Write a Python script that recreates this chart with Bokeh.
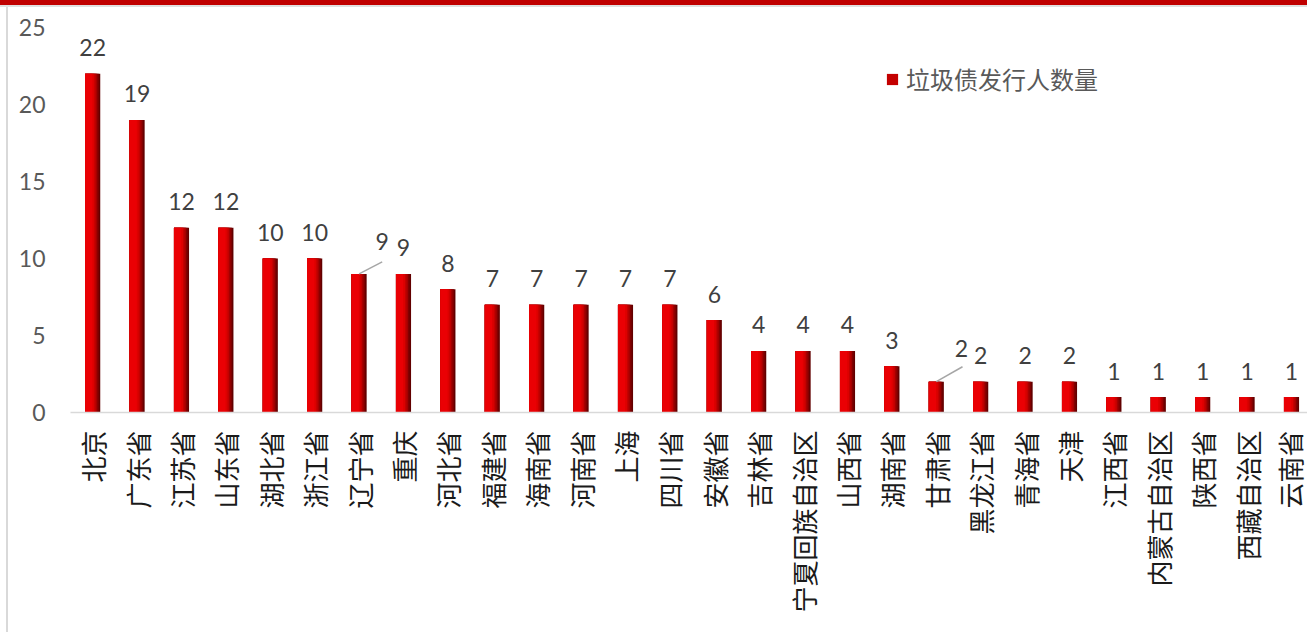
import math
from bokeh.plotting import figure
from bokeh.models import ColumnDataSource, FixedTicker, Range1d, Legend, LegendItem, Spacer
from bokeh.layouts import row, column
from bokeh.core.properties import value
from bokeh.embed import file_html
from bokeh.resources import INLINE

categories = ["北京", "广东省", "江苏省", "山东省", "湖北省", "浙江省", "辽宁省", "重庆",
              "河北省", "福建省", "海南省", "河南省", "上海", "四川省", "安徽省", "吉林省",
              "宁夏回族自治区", "山西省", "湖南省", "甘肃省", "黑龙江省", "青海省", "天津",
              "江西省", "内蒙古自治区", "陕西省", "西藏自治区", "云南省"]
issuers = [22, 19, 12, 12, 10, 10, 9, 9, 8, 7, 7, 7, 7, 7, 6, 4, 4, 4, 3, 2, 2, 2, 2,
           1, 1, 1, 1, 1]
y_ticks = [0, 5, 10, 15, 20, 25]
series_name = "垃圾债发行人数量"

n = len(categories)
xs = list(range(n))


def strip(w, h, color):
    f = figure(width=w, height=h, output_backend="svg", toolbar_location=None,
               title=None, x_axis_type=None, y_axis_type=None,
               x_range=Range1d(0, 1), y_range=Range1d(0, 1),
               min_border=0, min_border_left=0, min_border_right=0,
               min_border_top=0, min_border_bottom=0,
               styles={"background-color": color})
    f.border_fill_color = color
    f.background_fill_color = color
    f.outline_line_color = None
    f.grid.visible = False
    f.quad(left=[0], right=[1], bottom=[0], top=[1], fill_color=color, line_color=None)
    return f


PW, PH = 1299, 625
p = figure(width=PW, height=PH, output_backend="svg", toolbar_location=None,
           x_range=Range1d(-0.5, 27.36), y_range=Range1d(0, 25),
           min_border_left=62, min_border_right=0, min_border_top=20,
           min_border_bottom=220)
p.outline_line_color = None
p.background_fill_color = "white"
p.border_fill_color = "white"
p.xgrid.visible = False
p.ygrid.visible = False

# bars with a left-to-right light-to-dark shading, built from layered quads
W = 0.34
layers = [(1.0, "#620000"), (0.9, "#820000"), (0.8, "#A40000"), (0.7, "#C40000"),
          (0.6, "#DC0000"), (0.48, "#EA0004")]
legend_r = None
for frac, col in layers:
    src = ColumnDataSource(dict(
        left=[x - W / 2 for x in xs],
        right=[x - W / 2 + W * frac for x in xs],
        top=issuers,
        bottom=[0] * n))
    r = p.quad(left="left", right="right", top="top", bottom="bottom", source=src,
               fill_color=col, line_color=None)
    if col == "#C40000":
        legend_r = r

# data labels (two are pulled aside with a leader line)
label_dx = [0] * n
label_dy = [-26] * n
leader = {6: (0.52, 0.78, 23, -32), 19: (0.59, 0.97, 25, -33)}
for i, (_, _, dxp, dyp) in leader.items():
    label_dx[i] = dxp
    label_dy[i] = dyp

lab_src = ColumnDataSource(dict(x=xs, y=issuers, t=[str(v) for v in issuers],
                                dx=label_dx, dy=label_dy))
p.text(x="x", y="y", text="t", x_offset="dx", y_offset="dy", source=lab_src,
       text_align="center", text_baseline="alphabetic",
       text_font=value("Lato"), text_font_size="23px", text_color="#404040")

seg_idx = sorted(leader.keys())
p.segment(x0=[xs[i] for i in seg_idx], y0=[issuers[i] for i in seg_idx],
          x1=[xs[i] + leader[i][0] for i in seg_idx],
          y1=[issuers[i] + leader[i][1] for i in seg_idx],
          line_color="#A6A6A6", line_width=1.5)

# axes
p.xaxis.ticker = FixedTicker(ticks=xs)
p.xaxis.major_label_overrides = {i: c for i, c in enumerate(categories)}
p.xaxis.major_label_orientation = math.pi / 2
p.xaxis.major_label_text_font = "Noto Sans CJK SC"
p.xaxis.major_label_text_font_size = "26px"
p.xaxis.major_label_text_color = "#1A1A1A"
p.xaxis.major_label_standoff = 18
p.xaxis.major_tick_out = 0
p.xaxis.major_tick_in = 0
p.xaxis.minor_tick_line_color = None
p.xaxis.axis_line_color = "#D9D9D9"
p.xaxis.axis_line_width = 1.5

p.yaxis.ticker = FixedTicker(ticks=y_ticks)
p.yaxis.axis_line_color = None
p.yaxis.major_tick_line_color = None
p.yaxis.minor_tick_line_color = None
p.yaxis.major_tick_out = 0
p.yaxis.major_tick_in = 0
p.yaxis.major_label_standoff = 25
p.yaxis.major_label_text_font = "Lato"
p.yaxis.major_label_text_font_size = "23px"
p.yaxis.major_label_text_color = "#595959"

legend = Legend(items=[LegendItem(label=series_name, renderers=[legend_r])],
                location=(815, 316), orientation="vertical")
legend.border_line_color = None
legend.background_fill_alpha = 0
legend.padding = 0
legend.margin = 0
legend.glyph_width = 14
legend.glyph_height = 14
legend.label_standoff = 7
legend.label_text_font = "Noto Sans CJK SC"
legend.label_text_font_size = "24px"
legend.label_text_color = "#595959"
p.add_layout(legend)

# chart box decorations: red band and thin gray rule on top, gray rule on the left
layout = column(
    strip(1307, 5, "#C00000"),
    strip(1307, 2, "#E0E0E0"),
    row(Spacer(width=6, height=PH), strip(2, PH, "#D9D9D9"), p),
)

open("out.html", "w").write(file_html(layout, INLINE))
